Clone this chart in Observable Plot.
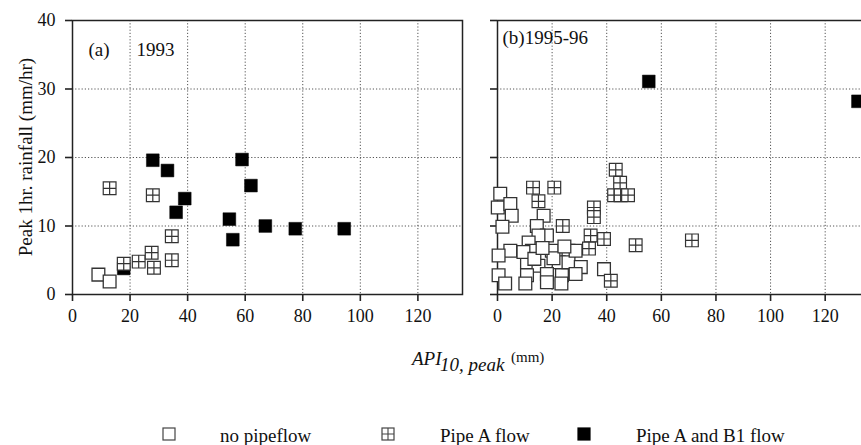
<!DOCTYPE html>
<html><head><meta charset="utf-8">
<script src="https://cdn.jsdelivr.net/npm/d3@7"></script>
<script src="https://cdn.jsdelivr.net/npm/@observablehq/plot@0.6"></script>
<style>
body{margin:0;background:#fff;overflow:hidden}
#wrap{position:relative;width:861px;height:445px;overflow:hidden;font-family:"Liberation Serif",serif;color:#111;background:#fff}
#wrap svg, #wrap svg text{font-family:"Liberation Serif",serif !important}
#left{position:absolute;left:0;top:0}
#right{position:absolute;left:462px;top:0}
.t{position:absolute;white-space:nowrap;line-height:1}
.sw{position:absolute}
</style>
</head><body>
<div id="wrap">
  <div id="left"></div>
  <div id="right"></div>
  <div class="t" id="ytitle" style="left:25px;top:157px;font-size:19px;transform:translate(-50%,-50%) rotate(-90deg)">Peak 1hr. rainfall (mm/hr)</div>
  <span class="t" style="left:412px;top:349px;font-size:19px;font-style:italic">API</span>
  <span class="t" style="left:440px;top:355px;font-size:19px;font-style:italic">10, peak</span>
  <span class="t" style="left:511px;top:350px;font-size:15px">(mm)</span>
  <div id="legend"></div>
</div>
<script>
// ---- data ----
const xTicks = [0, 20, 40, 60, 80, 100, 120];
const yTicks = [0, 10, 20, 30, 40];

// Panel (a) 1993 : [API10,peak (mm), peak 1hr rainfall (mm/hr)]
const a_noPipe = [[9, 2.9], [12.9, 1.9]];
const a_pipeA = [[12.9, 15.5], [17.8, 4.5], [23, 4.8], [27.5, 6.1], [28.3, 3.9], [27.9, 14.5], [34.5, 8.5], [34.5, 5.0]];
const a_pipeAB1 = [[17.8, 3.8], [27.9, 19.6], [33, 18.1], [39, 14.0], [36, 12.0], [54.5, 11.0], [55.7, 8.0], [58.9, 19.7], [62, 15.9], [67, 10.0], [77.4, 9.6], [94.4, 9.6]];

// Panel (b) 1995-96
const b_noPipe = [[1.0, 14.7], [0.1, 12.7], [4.7, 13.2], [5.2, 11.5], [1.8, 9.9], [16.9, 11.5], [14.4, 10], [18.1, 8.6], [15, 8.6], [11.4, 7.6],
  [19.9, 6.4], [12.6, 6.4], [4.7, 6.4], [0.4, 5.7], [26, 6.4], [22.4, 4.7], [10.8, 4.7], [15, 4.2], [18.1, 3.0], [23.6, 2.8],
  [10.8, 2.8], [0.4, 2.8], [2.8, 1.6], [10.2, 1.6], [18.1, 1.8], [23.4, 1.6], [26, 4.7], [28.6, 6.4], [30.5, 4.0], [28.6, 3.0],
  [39, 3.7], [9.5, 6.2], [13.5, 5.2], [20.5, 5.3], [24.5, 7.0], [16.5, 6.8]];
const b_pipeA = [[13, 15.6], [20.8, 15.6], [15, 13.6], [23.9, 10], [43.3, 18.2], [44.9, 16.3], [42.7, 14.5], [45.1, 14.5], [47.8, 14.5],
  [35.3, 12.7], [35.3, 11.3], [34.1, 8.6], [39, 8.1], [33.5, 6.7], [50.6, 7.2], [41.5, 2.0], [71.2, 7.9]];
const b_pipeAB1 = [[55.4, 31.1], [132, 28.2]];

const legendLabels = ["no pipeflow", "Pipe A flow", "Pipe A and B1 flow"];

// ---- symbols ----
const crossSquare = {
  draw(ctx, size) {
    const s = Math.sqrt(size) / 2;
    ctx.moveTo(-s, -s); ctx.lineTo(s, -s); ctx.lineTo(s, s); ctx.lineTo(-s, s); ctx.closePath();
    ctx.moveTo(0, -s); ctx.lineTo(0, s);
    ctx.moveTo(-s, 0); ctx.lineTo(s, 0);
  }
};
const R = 7.2;
const FONT = "Liberation Serif";
const gridStyle = {stroke: "#555", strokeOpacity: 1, strokeWidth: 1, strokeDasharray: "1.2,2"};
const baseStyle = {fontFamily: FONT, fontSize: "18px", color: "#111", background: "transparent", overflow: "visible"};

function dots(noPipe, pipeA, pipeAB1) {
  return [
    Plot.dot(pipeAB1, {x: d => d[0], y: d => d[1], symbol: "square", r: R, fill: "#000", stroke: "#000", strokeWidth: 0.5}),
    Plot.dot(noPipe, {x: d => d[0], y: d => d[1], symbol: "square", r: R, fill: "#fff", stroke: "#333", strokeWidth: 1.3}),
    Plot.dot(pipeA, {x: d => d[0], y: d => d[1], symbol: crossSquare, r: R, fill: "#fff", stroke: "#333", strokeWidth: 1.2})
  ];
}

const left = Plot.plot({
  width: 470, height: 330,
  marginLeft: 72, marginRight: 8, marginTop: 20, marginBottom: 36,
  style: baseStyle,
  x: {domain: [0, 135.5], label: null},
  y: {domain: [0, 40], label: null},
  marks: [
    Plot.gridX(xTicks.slice(1), gridStyle),
    Plot.gridY(yTicks.slice(1, -1), gridStyle),
    Plot.frame({stroke: "#222", strokeWidth: 1.5}),
    Plot.axisX(xTicks, {tickSize: 7, tickPadding: 8, strokeWidth: 1.6, stroke: "#222", fontFamily: FONT, fontSize: 18}),
    Plot.axisY(yTicks, {tickSize: 7, tickPadding: 10, strokeWidth: 1.6, stroke: "#222", fontFamily: FONT, fontSize: 18}),
    ...dots(a_noPipe, a_pipeA, a_pipeAB1),
    Plot.text(["(a)"], {text: d => d, frameAnchor: "top-left", dx: 16, dy: 29, textAnchor: "start", lineAnchor: "middle", fontSize: 19, fontFamily: FONT}),
    Plot.text(["1993"], {text: d => d, frameAnchor: "top-left", dx: 64, dy: 29, textAnchor: "start", lineAnchor: "middle", fontSize: 19, fontFamily: FONT})
  ]
});
document.getElementById("left").append(left);

const right = Plot.plot({
  width: 399, height: 330,
  marginLeft: 35, marginRight: 0, marginTop: 20, marginBottom: 36,
  style: baseStyle,
  x: {domain: [0, 133.3], label: null},
  y: {domain: [0, 40], label: null},
  marks: [
    Plot.gridX(xTicks.slice(1), gridStyle),
    Plot.gridY(yTicks.slice(1, -1), gridStyle),
    Plot.ruleY([0, 40], {stroke: "#222", strokeWidth: 1.5}),
    Plot.ruleX([0], {stroke: "#222", strokeWidth: 1.5}),
    Plot.axisX(xTicks, {tickSize: 7, tickPadding: 8, strokeWidth: 1.6, stroke: "#222", fontFamily: FONT, fontSize: 18}),
    Plot.axisY(yTicks, {tickSize: 7, tickFormat: () => "", strokeWidth: 1.6, stroke: "#222"}),
    ...dots(b_noPipe, b_pipeA, b_pipeAB1),
    Plot.text(["(b)1995-96"], {text: d => d, frameAnchor: "top-left", dx: 5, dy: 17, textAnchor: "start", lineAnchor: "middle", fontSize: 19, fontFamily: FONT})
  ]
});
document.getElementById("right").append(right);

// ---- legend ----
const lg = document.getElementById("legend");
const swX = [162, 381, 577];
const txX = [220, 440, 636];
const swKinds = ["open", "cross", "solid"];
legendLabels.forEach((lab, i) => {
  const svg = d3.create("svg").attr("class", "sw").attr("width", 15).attr("height", 15)
    .style("left", swX[i] + "px").style("top", "427px");
  const k = swKinds[i];
  svg.append("rect").attr("x", 1).attr("y", 1).attr("width", 12).attr("height", 12)
    .attr("fill", k === "solid" ? "#000" : "#fff").attr("stroke", k === "solid" ? "#000" : "#444").attr("stroke-width", 1.2);
  if (k === "cross") {
    svg.append("path").attr("d", "M7,1V13M1,7H13").attr("stroke", "#444").attr("stroke-width", 1.1);
  }
  lg.append(svg.node());
  const t = document.createElement("span");
  t.className = "t";
  t.style.left = txX[i] + "px";
  t.style.top = "426px";
  t.style.fontSize = "19px";
  t.textContent = lab;
  lg.append(t);
});
</script>
</body></html>
